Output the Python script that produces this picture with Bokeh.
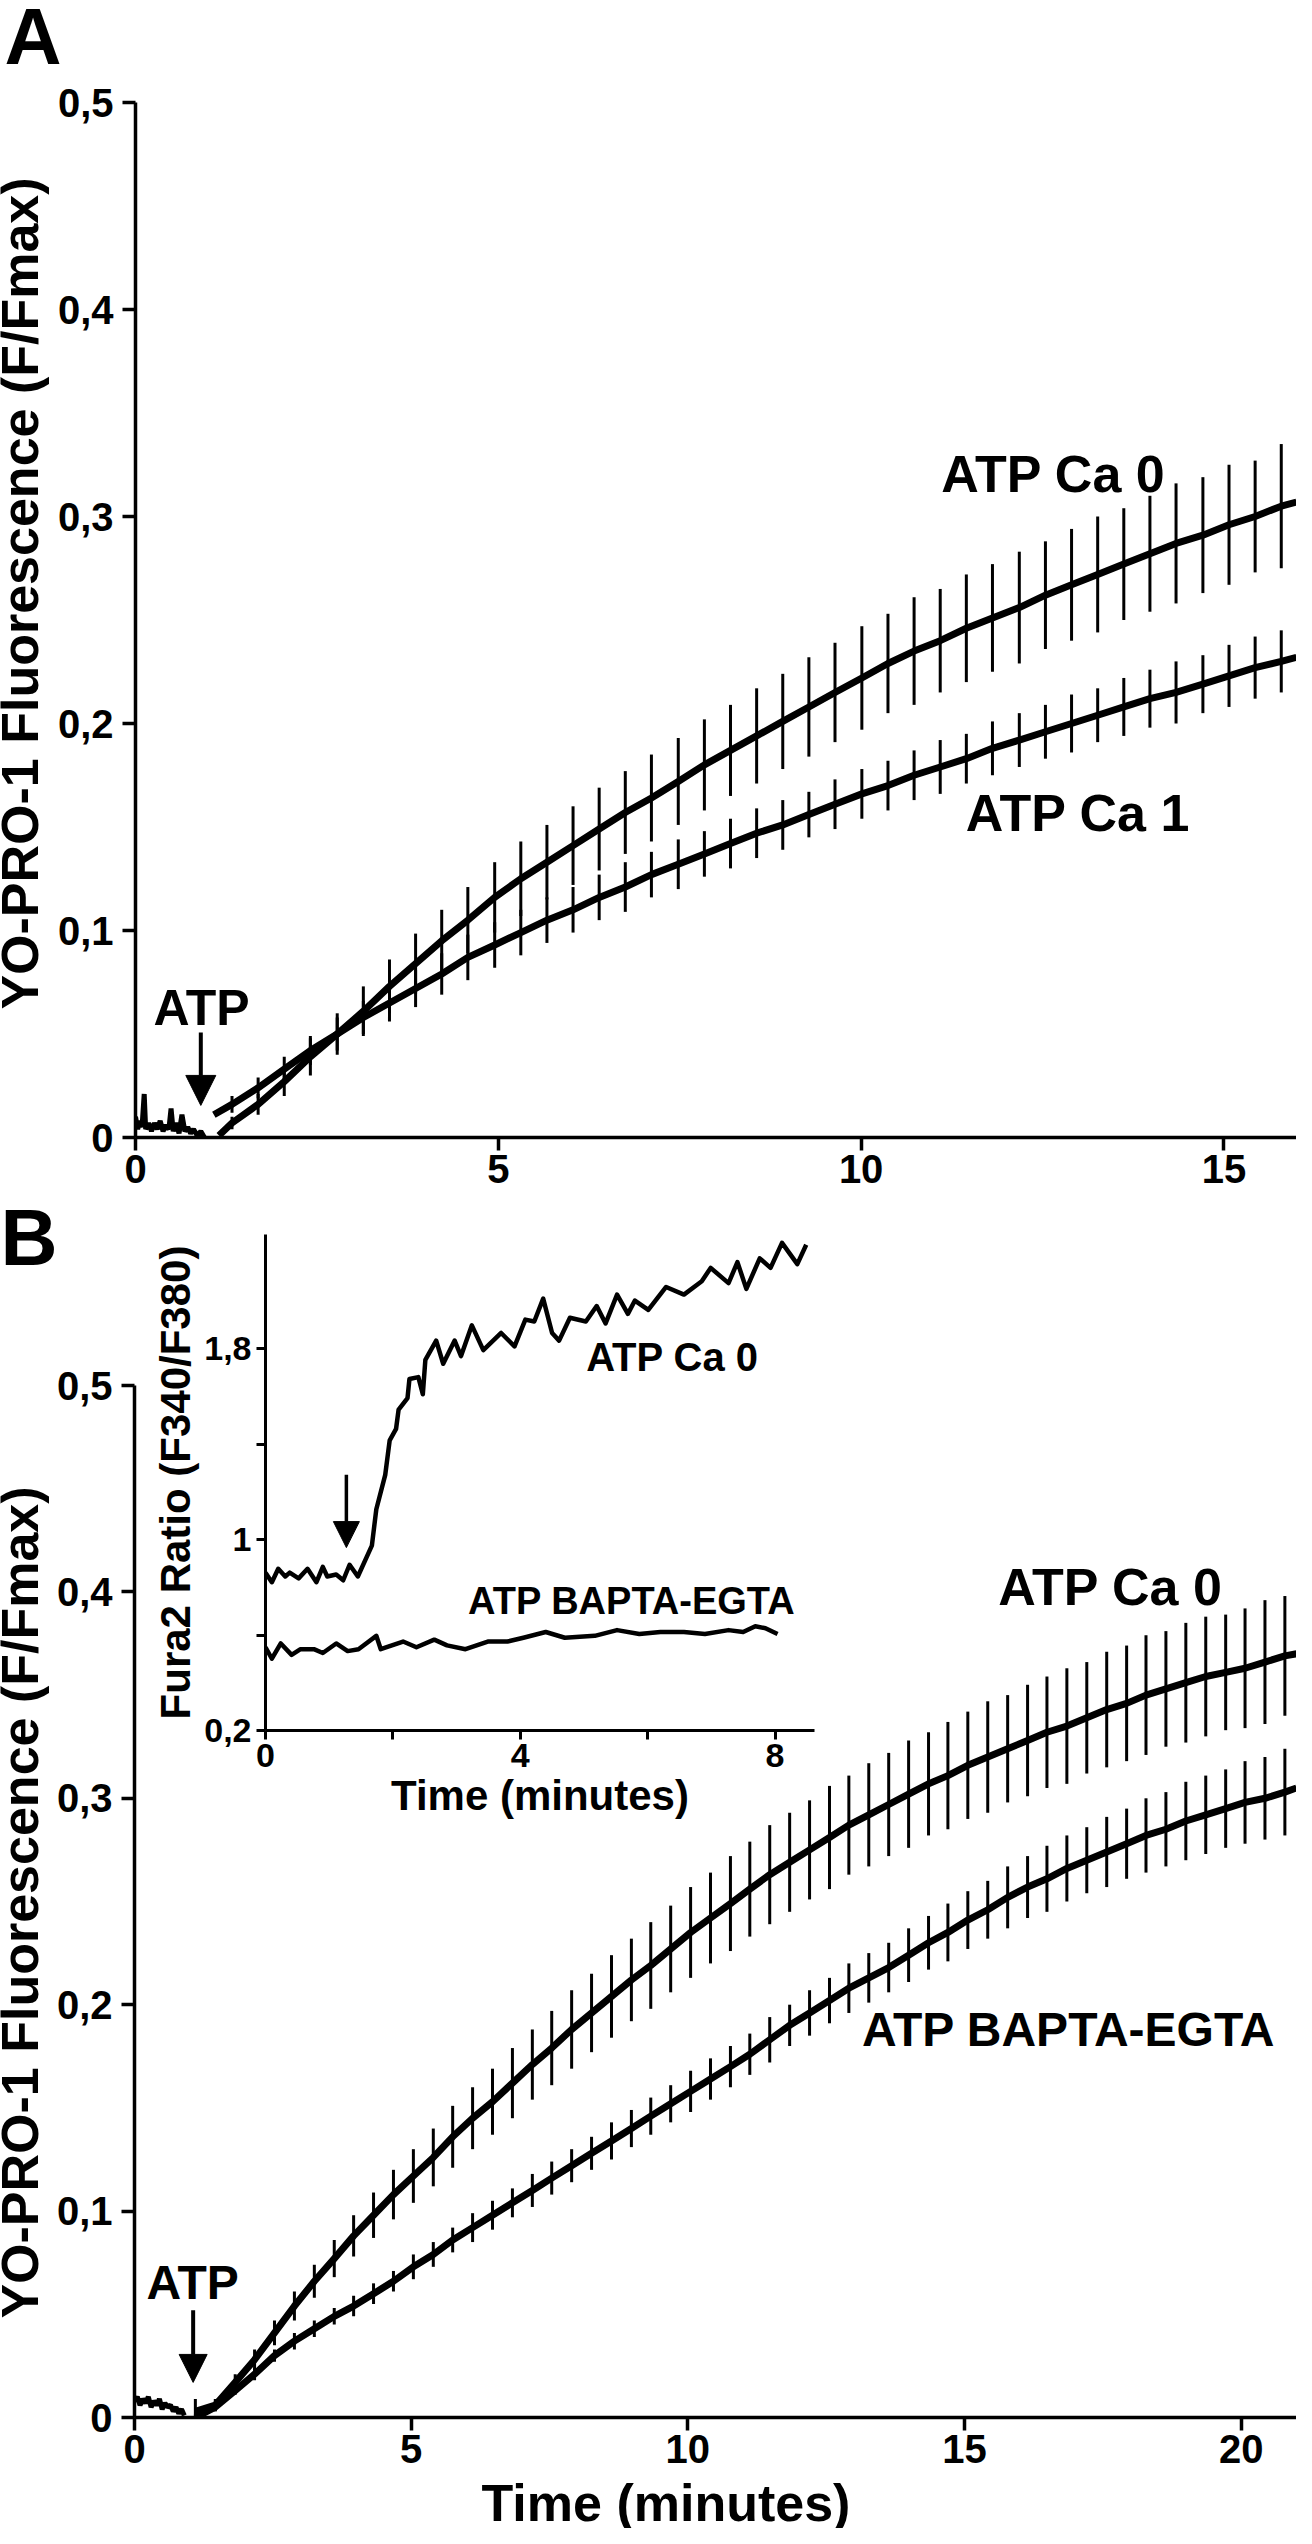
import math
import numpy as np
from bokeh.plotting import figure
from bokeh.models import (Range1d, FixedTicker, Label, Arrow, NormalHead, GridBox,
                          CustomJSTickFormatter)
from bokeh.embed import file_html
from bokeh.resources import INLINE

FONT = "Liberation Sans"

# ---------------- Panel A data ----------------
a_xticks = [0, 5, 10, 15]
a_yticks = [0, 0.1, 0.2, 0.3, 0.4, 0.5]

a_base_t = [0.00, 0.03, 0.06, 0.09, 0.12, 0.14, 0.18, 0.22, 0.26, 0.30, 0.34, 0.38, 0.42,
            0.46, 0.49, 0.52, 0.56, 0.60, 0.64, 0.68, 0.72, 0.76, 0.80, 0.85, 0.90, 0.95]
a_base_v = [0.010, 0.004, 0.008, 0.005, 0.021, 0.004, 0.007, 0.003, 0.007, 0.004, 0.008, 0.003, 0.006,
            0.004, 0.014, 0.003, 0.007, 0.002, 0.011, 0.003, 0.005, 0.002, 0.004, 0.001, 0.003, 0.000]

a_ca0_t = [1.15, 1.33, 1.69, 2.05, 2.41, 2.78, 3.14, 3.50, 3.86, 4.22, 4.58, 4.95, 5.31, 5.67, 6.03,
           6.39, 6.75, 7.11, 7.48, 7.84, 8.20, 8.56, 8.92, 9.28, 9.64, 10.01, 10.37, 10.73, 11.09,
           11.45, 11.81, 12.18, 12.54, 12.90, 13.26, 13.62, 13.98, 14.34, 14.71, 15.07, 15.43, 15.79, 16.00]
a_ca0_m = [0.001, 0.007, 0.016, 0.027, 0.039, 0.050, 0.061, 0.073, 0.084, 0.095, 0.105, 0.116, 0.125,
           0.133, 0.141, 0.149, 0.157, 0.164, 0.172, 0.180, 0.187, 0.194, 0.201, 0.208, 0.215, 0.222,
           0.229, 0.235, 0.240, 0.246, 0.251, 0.256, 0.262, 0.267, 0.272, 0.277, 0.282, 0.287, 0.291,
           0.296, 0.300, 0.305, 0.307]
a_ca0_e = [0.0, 0.003, 0.005, 0.007, 0.009, 0.010, 0.012, 0.013, 0.0145, 0.015, 0.016, 0.017, 0.018,
           0.018, 0.019, 0.020, 0.020, 0.021, 0.021, 0.022, 0.022, 0.023, 0.023, 0.024, 0.024, 0.025,
           0.024, 0.026, 0.025, 0.026, 0.026, 0.027, 0.026, 0.027, 0.028, 0.027, 0.028, 0.029, 0.028,
           0.029, 0.027, 0.030, 0.0]

a_ca1_t = [1.08, 1.33, 1.69, 2.05, 2.41, 2.78, 3.14, 3.50, 3.86, 4.22, 4.58, 4.95, 5.31, 5.67, 6.03,
           6.39, 6.75, 7.11, 7.48, 7.84, 8.20, 8.56, 8.92, 9.28, 9.64, 10.01, 10.37, 10.73, 11.09,
           11.45, 11.81, 12.18, 12.54, 12.90, 13.26, 13.62, 13.98, 14.34, 14.71, 15.07, 15.43, 15.79, 16.00]
a_ca1_m = [0.011, 0.016, 0.024, 0.033, 0.042, 0.050, 0.058, 0.065, 0.072, 0.079, 0.087, 0.093, 0.099,
           0.105, 0.110, 0.116, 0.121, 0.127, 0.132, 0.137, 0.142, 0.147, 0.151, 0.156, 0.161, 0.166,
           0.170, 0.175, 0.179, 0.183, 0.188, 0.192, 0.196, 0.200, 0.204, 0.208, 0.212, 0.215, 0.219,
           0.223, 0.227, 0.230, 0.232]
a_ca1_e = [0.0, 0.004, 0.005, 0.006, 0.007, 0.008, 0.008, 0.009, 0.009, 0.010, 0.011, 0.011, 0.011,
           0.011, 0.011, 0.011, 0.012, 0.011, 0.012, 0.011, 0.012, 0.012, 0.012, 0.011, 0.012, 0.012,
           0.012, 0.012, 0.013, 0.012, 0.013, 0.013, 0.013, 0.014, 0.013, 0.014, 0.014, 0.015, 0.014,
           0.015, 0.015, 0.015, 0.0]

# ---------------- Panel B data ----------------
b_xticks = [0, 5, 10, 15, 20]
b_yticks = [0, 0.1, 0.2, 0.3, 0.4, 0.5]

b_base_t = [0.00, 0.05, 0.10, 0.15, 0.20, 0.25, 0.30, 0.35, 0.40, 0.45, 0.50, 0.55, 0.60, 0.65,
            0.70, 0.75, 0.80, 0.85, 0.90]
b_base_v = [0.008, 0.010, 0.006, 0.009, 0.007, 0.010, 0.005, 0.008, 0.006, 0.009, 0.004, 0.007,
            0.005, 0.006, 0.003, 0.005, 0.002, 0.004, 0.001]

b_t = [1.10, 1.46, 1.82, 2.17, 2.53, 2.89, 3.25, 3.61, 3.96, 4.32, 4.68, 5.04, 5.40, 5.75, 6.11,
       6.47, 6.83, 7.19, 7.54, 7.90, 8.26, 8.62, 8.98, 9.33, 9.69, 10.05, 10.41, 10.77, 11.12,
       11.48, 11.84, 12.20, 12.56, 12.91, 13.27, 13.63, 13.99, 14.35, 14.70, 15.06, 15.42, 15.78,
       16.14, 16.49, 16.85, 17.21, 17.57, 17.93, 18.28, 18.64, 19.00, 19.36, 19.72, 20.07, 20.43,
       20.79, 21.00]
b_ca0_m = [0.003, 0.006, 0.017, 0.028, 0.041, 0.054, 0.066, 0.077, 0.088, 0.098,
           0.108, 0.117, 0.126, 0.136, 0.145, 0.153, 0.162, 0.171, 0.179, 0.188,
           0.196, 0.204, 0.212, 0.219, 0.227, 0.235, 0.242, 0.249, 0.256, 0.263,
           0.269, 0.275, 0.281, 0.287, 0.292, 0.297, 0.302, 0.307, 0.311, 0.316,
           0.320, 0.324, 0.328, 0.332, 0.335, 0.339, 0.343, 0.346, 0.350, 0.353,
           0.356, 0.359, 0.361, 0.363, 0.366, 0.369, 0.370]
b_ca0_e = [0.006, 0.003, 0.004, 0.005, 0.006, 0.007, 0.008, 0.009, 0.010, 0.011,
           0.012, 0.013, 0.014, 0.015, 0.015, 0.016, 0.017, 0.017, 0.018, 0.019,
           0.019, 0.020, 0.020, 0.021, 0.021, 0.022, 0.022, 0.023, 0.023, 0.024,
           0.024, 0.024, 0.025, 0.024, 0.025, 0.025, 0.026, 0.025, 0.026, 0.026,
           0.027, 0.026, 0.027, 0.027, 0.028, 0.027, 0.028, 0.028, 0.029, 0.028,
           0.029, 0.029, 0.028, 0.029, 0.030, 0.029, 0.0]
b_bap_m = [0.000, 0.005, 0.013, 0.021, 0.030, 0.037, 0.043, 0.049, 0.054, 0.060,
           0.066, 0.073, 0.079, 0.086, 0.092, 0.098, 0.104, 0.110, 0.116, 0.122,
           0.128, 0.134, 0.140, 0.146, 0.152, 0.158, 0.164, 0.170, 0.176, 0.183,
           0.190, 0.196, 0.202, 0.208, 0.213, 0.218, 0.224, 0.230, 0.235, 0.241,
           0.246, 0.252, 0.257, 0.261, 0.266, 0.270, 0.274, 0.278, 0.282, 0.285,
           0.289, 0.292, 0.295, 0.298, 0.300, 0.303, 0.305]
b_bap_e = [0.001, 0.002, 0.002, 0.003, 0.003, 0.004, 0.004, 0.004, 0.005, 0.005,
           0.005, 0.006, 0.006, 0.006, 0.007, 0.007, 0.007, 0.008, 0.008, 0.008,
           0.008, 0.009, 0.009, 0.009, 0.009, 0.010, 0.010, 0.010, 0.010, 0.011,
           0.010, 0.011, 0.011, 0.012, 0.012, 0.012, 0.013, 0.013, 0.014, 0.014,
           0.014, 0.015, 0.015, 0.016, 0.016, 0.016, 0.017, 0.017, 0.018, 0.018,
           0.019, 0.019, 0.019, 0.020, 0.020, 0.021, 0.0]

# ---------------- Inset data (Fura2 ratio) ----------------
i_xticks = [0, 2, 4, 6, 8]
i_yticks = [0.2, 0.6, 1.0, 1.4, 1.8]

i_ca0_t = [0.00, 0.10, 0.20, 0.31, 0.38, 0.52, 0.66, 0.80, 0.90, 0.97, 1.11, 1.22, 1.32, 1.45,
           1.67, 1.74, 1.88, 1.95, 2.05, 2.09, 2.23, 2.26, 2.40, 2.47, 2.51, 2.68, 2.79, 2.97,
           3.07, 3.24, 3.42, 3.70, 3.91, 4.08, 4.22, 4.36, 4.50, 4.61, 4.78, 5.03, 5.20, 5.34,
           5.52, 5.69, 5.80, 6.01, 6.29, 6.57, 6.85, 6.99, 7.27, 7.41, 7.55, 7.76, 7.93, 8.11,
           8.35, 8.49]
i_ca0_v = [0.862, 0.822, 0.878, 0.846, 0.862, 0.838, 0.878, 0.822, 0.886, 0.846, 0.854, 0.830,
           0.895, 0.846, 0.975, 1.128, 1.272, 1.417, 1.465, 1.546, 1.594, 1.674, 1.682, 1.610,
           1.754, 1.835, 1.738, 1.835, 1.770, 1.899, 1.795, 1.867, 1.811, 1.923, 1.915, 2.011,
           1.867, 1.835, 1.931, 1.915, 1.980, 1.907, 2.028, 1.947, 2.003, 1.964, 2.060, 2.028,
           2.084, 2.140, 2.076, 2.164, 2.052, 2.180, 2.140, 2.245, 2.156, 2.237]

i_bap_t = [0.00, 0.10, 0.24, 0.41, 0.55, 0.76, 0.90, 1.11, 1.29, 1.46, 1.74, 1.81, 2.16, 2.37,
           2.65, 2.85, 3.14, 3.49, 3.80, 4.05, 4.40, 4.70, 5.17, 5.52, 5.87, 6.20, 6.57, 6.90,
           7.27, 7.50, 7.69, 7.85, 8.04]
i_bap_v = [0.549, 0.501, 0.565, 0.517, 0.541, 0.541, 0.525, 0.565, 0.533, 0.541, 0.597, 0.541,
           0.573, 0.549, 0.581, 0.557, 0.541, 0.573, 0.573, 0.589, 0.613, 0.589, 0.597, 0.621,
           0.605, 0.613, 0.613, 0.605, 0.621, 0.613, 0.637, 0.629, 0.605]


def no_frame_align(p):
    try:
        p.frame_align = False
    except AttributeError:
        pass


def style_axes(p, tick_size, tick_out, lw, xstand, ystand):
    for ax in (p.xaxis, p.yaxis):
        ax.axis_line_width = lw
        ax.axis_line_color = "black"
        ax.major_tick_line_width = lw
        ax.major_tick_line_color = "black"
        ax.major_tick_out = tick_out
        ax.major_tick_in = 0
        ax.minor_tick_line_color = None
        ax.major_label_text_font = FONT
        ax.major_label_text_font_style = "bold"
        ax.major_label_text_font_size = f"{tick_size}px"
        ax.major_label_text_color = "black"
    p.xaxis.major_label_standoff = xstand
    p.yaxis.major_label_standoff = ystand
    p.xgrid.visible = False
    p.ygrid.visible = False
    p.outline_line_color = None
    no_frame_align(p)


def label(p, x, y, text, size, align="center", angle=0.0):
    # (x, y) is the vertical middle of the text line
    p.add_layout(Label(x=x, y=y, text=text, text_font=FONT, text_font_size=f"{size}px",
                       text_font_style="bold", text_align=align, text_baseline="middle",
                       angle=angle, text_color="black"))


def errbars(p, t, m, e, lw):
    t = np.array(t); m = np.array(m); e = np.array(e)
    keep = e > 0
    p.segment(x0=t[keep], y0=(m - e)[keep], x1=t[keep], y1=(m + e)[keep],
              line_color="black", line_width=lw)


comma_fmt = CustomJSTickFormatter(code="""
    if (Math.abs(tick) < 1e-9) { return "0"; }
    return tick.toFixed(1).replace(".", ",");
""")

# ---------------- Panel A figure ----------------
pA = figure(width=1296, height=1199, x_range=Range1d(0, 16), y_range=Range1d(0, 0.5),
            output_backend="svg", toolbar_location=None,
            min_border_left=135, min_border_right=0, min_border_top=102, min_border_bottom=62)
style_axes(pA, 40, 13, 3.5, 4, 9)
pA.xaxis.ticker = FixedTicker(ticks=a_xticks)
pA.yaxis.ticker = FixedTicker(ticks=a_yticks)
pA.yaxis.formatter = comma_fmt

pA.line(a_base_t, a_base_v, line_color="black", line_width=5)
errbars(pA, a_ca0_t, a_ca0_m, a_ca0_e, 3)
errbars(pA, a_ca1_t, a_ca1_m, a_ca1_e, 3)
pA.line(a_ca0_t, a_ca0_m, line_color="black", line_width=7, line_join="round")
pA.line(a_ca1_t, a_ca1_m, line_color="black", line_width=7, line_join="round")

label(pA, 12.65, 0.3206, "ATP Ca 0", 52)
label(pA, 12.99, 0.157, "ATP Ca 1", 52)
label(pA, 0.91, 0.0627, "ATP", 50)
pA.add_layout(Arrow(end=NormalHead(size=30, fill_color="black", line_color="black"),
                    x_start=0.90, y_start=0.0507, x_end=0.90, y_end=0.0155,
                    line_width=4, line_color="black"))

# ---------------- Panel B figure ----------------
pB = figure(width=1296, height=1329, x_range=Range1d(0, 21), y_range=Range1d(0, 0.5),
            output_backend="svg", toolbar_location=None,
            min_border_left=134, min_border_right=0, min_border_top=186, min_border_bottom=111)
style_axes(pB, 40, 13, 3.5, 4, 9)
pB.xaxis.ticker = FixedTicker(ticks=b_xticks)
pB.yaxis.ticker = FixedTicker(ticks=b_yticks)
pB.yaxis.formatter = comma_fmt

pB.line(b_base_t, b_base_v, line_color="black", line_width=5)
errbars(pB, b_t, b_ca0_m, b_ca0_e, 3)
errbars(pB, b_t, b_bap_m, b_bap_e, 3)
pB.line(b_t, b_ca0_m, line_color="black", line_width=7, line_join="round")
pB.line(b_t, b_bap_m, line_color="black", line_width=7, line_join="round")

label(pB, 17.64, 0.4022, "ATP Ca 0", 52)
label(pB, 16.88, 0.188, "ATP BAPTA-EGTA", 48)
label(pB, 1.05, 0.0653, "ATP", 48)
pB.add_layout(Arrow(end=NormalHead(size=28, fill_color="black", line_color="black"),
                    x_start=1.06, y_start=0.052, x_end=1.06, y_end=0.017,
                    line_width=4, line_color="black"))

# ---------------- Inset figure ----------------
pI = figure(width=687, height=606, x_range=Range1d(0, 8.62), y_range=Range1d(0.2, 2.28),
            output_backend="svg", toolbar_location=None,
            min_border_left=115, min_border_right=22, min_border_top=10, min_border_bottom=100)
style_axes(pI, 34, 9, 3, 4, 5)
pI.background_fill_alpha = 0
pI.border_fill_alpha = 0
pI.xaxis.ticker = FixedTicker(ticks=i_xticks)
pI.yaxis.ticker = FixedTicker(ticks=i_yticks)
pI.xaxis.formatter = CustomJSTickFormatter(code="""
    const r = Math.round(tick);
    return (r % 4 == 0) ? String(r) : "";
""")
pI.yaxis.formatter = CustomJSTickFormatter(code="""
    if (Math.abs(tick - 0.2) < 1e-6) { return "0,2"; }
    if (Math.abs(tick - 1.0) < 1e-6) { return "1"; }
    if (Math.abs(tick - 1.8) < 1e-6) { return "1,8"; }
    return "";
""")
for ax, txt in ((pI.xaxis, "Time (minutes)"), (pI.yaxis, "Fura2 Ratio (F340/F380)")):
    ax.axis_label = txt
    ax.axis_label_text_font = FONT
    ax.axis_label_text_font_style = "bold"
    ax.axis_label_text_font_size = "42px"
    ax.axis_label_text_color = "black"
    ax.axis_label_standoff = 2

pI.line(i_ca0_t, i_ca0_v, line_color="black", line_width=4.5, line_join="round")
pI.line(i_bap_t, i_bap_v, line_color="black", line_width=4.5, line_join="round")
label(pI, 6.39, 1.768, "ATP Ca 0", 40)
label(pI, 5.75, 0.743, "ATP BAPTA-EGTA", 38)
pI.add_layout(Arrow(end=NormalHead(size=26, fill_color="black", line_color="black"),
                    x_start=1.27, y_start=1.272, x_end=1.27, y_end=0.967,
                    line_width=3.5, line_color="black"))

# ---------------- Transparent overlay for panel letters and outer axis titles ----------------
pO = figure(width=1296, height=2528, x_range=Range1d(0, 1296), y_range=Range1d(2528, 0),
            output_backend="svg", toolbar_location=None, x_axis_type=None, y_axis_type=None,
            min_border=0, min_border_left=0, min_border_right=0, min_border_top=0,
            min_border_bottom=0)
pO.outline_line_color = None
pO.background_fill_alpha = 0
pO.border_fill_alpha = 0
pO.xgrid.visible = False
pO.ygrid.visible = False
no_frame_align(pO)

label(pO, 4, 36, "A", 79, align="left")
label(pO, 0, 1237, "B", 79, align="left")
label(pO, 19.5, 593, "YO-PRO-1 Fluorescence (F/Fmax)", 52, angle=math.pi / 2)
label(pO, 19.5, 1902, "YO-PRO-1 Fluorescence (F/Fmax)", 52, angle=math.pi / 2)
label(pO, 481, 2502, "Time (minutes)", 52, align="left")

grid = GridBox(children=[(pA, 0, 0, 1, 3), (pB, 1, 0, 3, 3), (pI, 2, 1, 1, 1),
                         (pO, 0, 0, 4, 3)],
               rows=["1199px", "25px", "606px", "698px"],
               cols=["149px", "687px", "460px"])

open("out.html", "w").write(file_html(grid, INLINE))
